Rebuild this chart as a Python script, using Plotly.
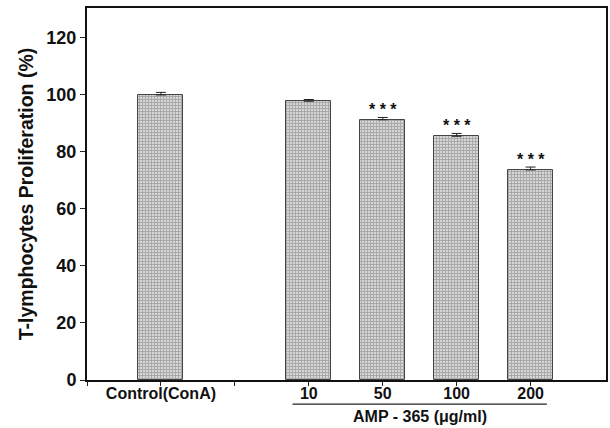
import plotly.graph_objects as go

categories = ["Control(ConA)", "10", "50", "100", "200"]
positions = [1, 3, 4, 5, 6]
values = [100.0, 97.8, 91.3, 85.5, 73.7]
errors = [0.9, 0.6, 0.8, 1.0, 1.0]
signif = ["", "", "***", "***", "***"]
y_ticks = [0, 20, 40, 60, 80, 100, 120]

font_family = "Liberation Sans, Arial, sans-serif"

fig = go.Figure()
fig.add_trace(go.Bar(
    x=positions, y=values, width=0.61,
    marker=dict(
        color="#c4c4c4",
        line=dict(color="#444444", width=1),
        pattern=dict(shape="+", size=3, solidity=0.5, fgcolor="#747474", bgcolor="#d6d6d6"),
    ),
    error_y=dict(type="data", symmetric=False, array=errors, arrayminus=[0]*len(errors),
                 color="#222222", thickness=1, width=5),
    showlegend=False,
))

for p, v, e, s in zip(positions, values, errors, signif):
    if s:
        fig.add_annotation(x=p, y=v + e, text="<b>" + " ".join(s) + "</b>", showarrow=False,
                           yanchor="bottom", yshift=-3,
                           font=dict(family=font_family, size=16, color="#111"))

# group underline and label
fig.add_shape(type="line", xref="x", yref="paper", x0=2.78, x1=6.22, y0=-0.065, y1=-0.065,
              line=dict(color="#222", width=1.2))
fig.add_annotation(x=4.5, xref="x", y=-0.07, yref="paper", yanchor="top", showarrow=False,
                   text="<b>AMP - 365 (μg/ml)</b>",
                   font=dict(family=font_family, size=16, color="#111"))

fig.update_layout(
    width=610, height=428,
    margin=dict(l=87, r=2, t=8, b=48),
    paper_bgcolor="white", plot_bgcolor="white",
    font=dict(family=font_family, color="#111"),
    bargap=0,
)
fig.update_xaxes(
    range=[0, 7.02], tickmode="array",
    tickvals=[0, 1, 2, 3, 4, 5, 6],
    ticktext=["", "<b>Control(ConA)</b>", "", "<b>10</b>", "<b>50</b>", "<b>100</b>", "<b>200</b>"],
    ticks="outside", ticklen=4, tickcolor="#222", tickwidth=1,
    ticklabelstandoff=-6,
    showline=True, linecolor="#111", linewidth=2, mirror=True,
    showgrid=False, zeroline=False,
    tickfont=dict(size=16, family=font_family, color="#111"),
)
fig.update_yaxes(
    range=[0, 130.5], tickmode="array", tickvals=y_ticks,
    ticktext=["<b>%d</b>" % t for t in y_ticks],
    ticks="outside", ticklen=5, tickcolor="#222", tickwidth=1,
    showline=True, linecolor="#111", linewidth=2, mirror=True,
    showgrid=False, zeroline=False,
    tickfont=dict(size=18, family=font_family, color="#111"),
    title=dict(text="<b>T-lymphocytes Proliferation (%)</b>", standoff=8,
               font=dict(size=19.5, family=font_family, color="#111")),
)

fig.write_html("out.html")
